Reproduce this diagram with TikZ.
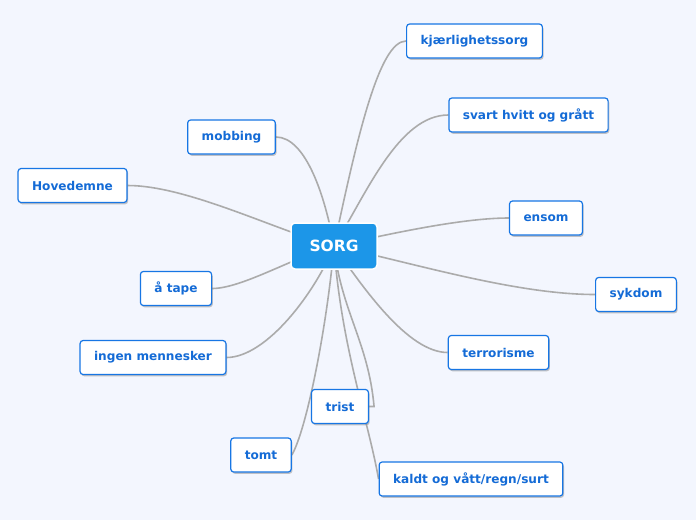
\documentclass[tikz,border=0pt]{standalone}
\usepackage{fontspec}
\setmainfont{DejaVu Sans}
\usetikzlibrary{shadows}
\definecolor{bgcol}{HTML}{F3F6FE}
\definecolor{linkcol}{HTML}{ABABAB}
\definecolor{leafline}{HTML}{1776E4}
\definecolor{leaftext}{HTML}{146BD6}
\definecolor{sorgfill}{HTML}{1C96E8}
\pgfdeclarelayer{links}
\pgfsetlayers{links,main}
\tikzset{
  leaf/.style={draw=leafline, line width=1.2pt, rounded corners=3pt, fill=white,
    text=leaftext, font=\fontsize{12.1}{14}\selectfont\bfseries,
    inner xsep=14pt, minimum height=34pt,
    drop shadow={shadow xshift=1.2pt, shadow yshift=-1.8pt, opacity=0.45}},
  hub/.style={draw=white, line width=1.5pt, rounded corners=4pt, fill=sorgfill,
    text=white, font=\fontsize{15.5}{18}\selectfont\bfseries,
    minimum width=86pt, minimum height=46pt},
  link/.style={draw=linkcol, line width=1.6pt}
}
\begin{document}
\begin{tikzpicture}[x=1pt,y=-1pt]
  \useasboundingbox (0,0) rectangle (696,520);
  \begin{pgfonlayer}{links}
    \fill [bgcol] (0,0) rectangle (696,520);
  \end{pgfonlayer}

  \node [hub] (sorg) at (334,246) {SORG};

  \node [leaf] (kj) at (474.5,41) {kjærlighetssorg};
  \node [leaf] (svart) at (528.5,115) {svart hvitt og grått};
  \node [leaf] (ensom) at (546,218) {ensom};
  \node [leaf] (sykdom) at (636,294.5) {sykdom};
  \node [leaf] (terror) at (498.5,352.5) {terrorisme};
  \node [leaf] (kaldt) at (471,479) {kaldt og vått/regn/surt};
  \node [leaf] (trist) at (340,406.5) {trist};
  \node [leaf] (tomt) at (261,455) {tomt};
  \node [leaf] (ingen) at (153,357.5) {ingen mennesker};
  \node [leaf] (tape) at (176,288.5) {å tape};
  \node [leaf] (hoved) at (72.5,185.5) {Hovedemne};
  \node [leaf] (mobbing) at (231.5,137) {mobbing};

  \begin{pgfonlayer}{links}
    % right side
    \foreach \leaf/\o/\od/\i/\id in {kj/78/110/180/27, svart/58/60/180/50,
        ensom/12/50/180/50, sykdom/-12/80/180/80, terror/-55/50/180/40,
        kaldt/-86/100/100/60} {
      \draw [link] (sorg.center) to[out=\o,out distance=\od,in=\i,in distance=\id] (\leaf.west);
    }
    % left side
    \foreach \leaf/\o/\od/\i/\id in {mobbing/100/50/0/30, hoved/165/60/0/60,
        tape/195/40/0/30, ingen/-112/50/0/40, tomt/-95/80/60/30} {
      \draw [link] (sorg.center) to[out=\o,out distance=\od,in=\i,in distance=\id] (\leaf.east);
    }
    \draw [link] (sorg.center) to[out=-84,in=95] ([xshift=5pt]trist.east) -- (trist.east);
  \end{pgfonlayer}
\end{tikzpicture}
\end{document}
